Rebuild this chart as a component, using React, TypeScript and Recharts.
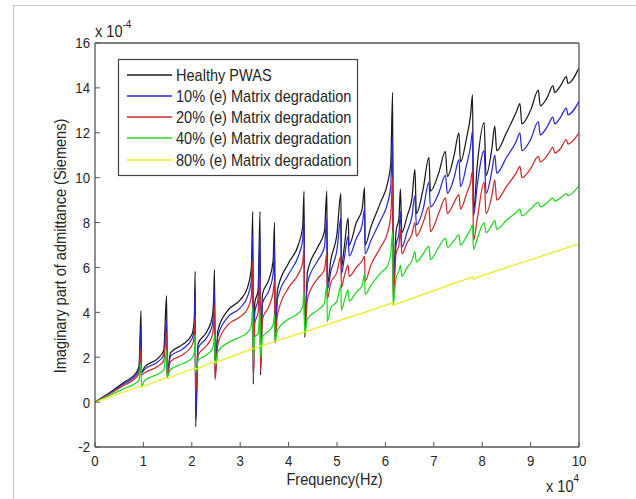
import React from 'react';
import { LineChart, Line, XAxis, YAxis } from 'recharts';

// frequency grid, units of 1e4 Hz (shared by the first four curves)
const freq = [
  0, 0.3, 0.6, 0.85, 0.91, 0.95, 0.96, 1.02, 1.3, 1.42,
  1.48, 1.49, 1.56, 1.8, 2.0, 2.05, 2.07, 2.08, 2.13, 2.3,
  2.42, 2.45, 2.47, 2.48, 2.54, 2.75, 3.0, 3.15, 3.23, 3.26,
  3.27, 3.3, 3.37, 3.41, 3.42, 3.46, 3.6, 3.68, 3.71, 3.72,
  3.77, 4.0, 4.2, 4.29, 4.32, 4.33, 4.39, 4.6, 4.74, 4.79,
  4.8, 4.87, 5.0, 5.08, 5.09, 5.15, 5.23, 5.25, 5.4, 5.52,
  5.57, 5.58, 5.7, 5.9, 6.05, 6.11, 6.15, 6.16, 6.22, 6.28,
  6.31, 6.34, 6.45, 6.55, 6.61, 6.64, 6.78, 6.9, 6.93, 7.1,
  7.24, 7.28, 7.42, 7.52, 7.55, 7.68, 7.76, 7.8, 7.82, 7.9,
  8.04, 8.08, 8.2, 8.26, 8.3, 8.5, 8.7, 8.78, 8.82, 9.0,
  9.16, 9.2, 9.35, 9.46, 9.5, 9.62, 9.74, 9.77, 10,
];

// imaginary admittance, units of 1e-4 S
const healthy = [
  0, 0.42, 0.88, 1.3, 1.6, 4.07, 1.3, 1.55, 1.95, 2.3,
  4.74, 1.12, 2.2, 2.55, 3.0, 3.6, 5.83, -1.1, 2.6, 3.1,
  3.75, 4.5, 5.9, 1.08, 3.2, 4.1, 4.55, 5.1, 6.0, 8.5,
  0.8, 4.4, 5.0, 8.5, 1.2, 4.8, 5.5, 6.3, 8.0, 2.64,
  5.0, 6.2, 7.0, 7.8, 9.4, 2.9, 5.8, 6.9, 7.6, 9.4,
  5.2, 6.3, 7.5, 9.3, 6.0, 6.9, 8.2, 7.0, 8.0, 8.6,
  9.56, 7.0, 7.8, 8.9, 9.8, 10.6, 13.8, 5.2, 7.6, 8.2,
  9.5, 7.55, 8.3, 9.1, 10.37, 8.4, 9.5, 10.9, 9.4, 10.2,
  11.17, 10.05, 11.0, 12.0, 10.7, 11.8, 12.8, 13.7, 8.5, 10.6,
  12.46, 10.1, 11.3, 12.3, 11.2, 12.0, 12.9, 13.3, 12.4, 13.0,
  13.9, 13.2, 13.6, 14.1, 13.8, 14.1, 14.5, 14.2, 14.9,
];

const deg10 = [
  0, 0.4, 0.82, 1.2, 1.45, 3.4, 1.3, 1.45, 1.8, 2.1,
  3.6, 1.3, 2.05, 2.35, 2.8, 3.3, 5.0, -0.7, 2.4, 2.85,
  3.4, 4.0, 5.0, 1.5, 2.95, 3.8, 4.2, 4.7, 5.4, 7.5,
  1.4, 4.0, 4.6, 7.5, 1.8, 4.4, 5.0, 5.7, 7.0, 3.0,
  4.6, 5.7, 6.5, 7.2, 8.2, 3.4, 5.3, 6.3, 6.9, 8.2,
  5.0, 5.8, 6.8, 8.2, 5.7, 6.4, 7.4, 6.5, 7.3, 7.9,
  8.6, 6.6, 7.2, 8.1, 8.9, 9.6, 11.8, 5.0, 7.0, 7.5,
  8.5, 6.9, 7.6, 8.3, 9.2, 7.9, 8.6, 9.8, 8.7, 9.3,
  10.1, 9.3, 10.0, 10.8, 9.6, 10.6, 11.4, 12.06, 8.3, 9.7,
  11.2, 9.3, 10.3, 11.0, 10.2, 10.9, 11.6, 12.0, 11.2, 11.7,
  12.5, 11.9, 12.3, 12.7, 12.4, 12.7, 13.1, 12.8, 13.4,
];

const deg20 = [
  0, 0.36, 0.75, 1.1, 1.3, 2.4, 1.2, 1.3, 1.6, 1.85,
  3.1, 1.2, 1.8, 2.1, 2.5, 2.9, 3.8, 0.4, 2.1, 2.5,
  2.95, 3.4, 4.3, 1.0, 2.6, 3.45, 3.8, 4.15, 4.7, 6.3,
  1.0, 3.5, 4.0, 5.6, 1.4, 3.7, 4.3, 4.9, 5.4, 2.7,
  3.9, 5.1, 5.7, 6.2, 6.8, 2.9, 4.6, 5.5, 5.9, 6.6,
  4.6, 5.3, 5.8, 6.5, 5.1, 5.6, 6.1, 5.6, 6.0, 6.3,
  6.5, 5.4, 6.1, 6.9, 7.6, 8.3, 10.0, 4.5, 6.6, 7.0,
  7.7, 6.6, 7.1, 7.5, 8.0, 7.4, 8.0, 8.7, 7.6, 8.4,
  9.1, 8.4, 8.9, 9.25, 8.6, 9.3, 9.8, 10.3, 7.2, 8.2,
  9.8, 8.4, 9.2, 9.9, 9.0, 9.6, 10.2, 10.5, 10.0, 10.4,
  10.95, 10.7, 11.0, 11.35, 11.1, 11.3, 11.7, 11.5, 12.0,
];

const deg40 = [
  0, 0.3, 0.6, 0.86, 0.98, 1.7, 0.7, 0.95, 1.25, 1.42,
  2.3, 1.1, 1.45, 1.7, 1.95, 2.2, 3.0, 1.3, 1.85, 2.1,
  2.35, 2.6, 3.0, 1.6, 2.25, 2.65, 2.9, 3.1, 3.4, 4.2,
  1.8, 2.9, 3.05, 4.1, 2.0, 2.9, 3.2, 3.45, 3.9, 2.65,
  3.2, 3.7, 3.95, 4.25, 4.9, 3.0, 3.7, 4.1, 4.4, 5.2,
  3.6, 4.2, 4.5, 5.2, 4.1, 4.5, 5.0, 4.5, 4.9, 5.2,
  5.7, 4.8, 5.2, 5.75, 6.1, 6.6, 7.6, 4.3, 5.5, 5.85,
  6.1, 5.6, 6.0, 6.3, 6.7, 6.25, 6.6, 6.95, 6.35, 6.9,
  7.3, 6.9, 7.2, 7.45, 7.0, 7.4, 7.7, 7.9, 6.8, 7.3,
  8.0, 7.55, 7.9, 8.1, 7.7, 8.1, 8.45, 8.6, 8.3, 8.6,
  8.9, 8.7, 8.9, 9.1, 8.95, 9.1, 9.3, 9.2, 9.65,
];

// the 80% curve is almost straight, so it has its own sparse grid
const deg80Freq = [0, 0.95, 0.96, 1.48, 1.49, 2.07, 2.08, 2.47, 2.48, 3.26, 3.41, 3.71, 4.32, 4.79, 5.57, 6.15, 6.16, 7.8, 7.82, 7.88, 10];
const deg80 = [0, 0.72, 0.66, 1.1, 1.05, 1.52, 1.46, 1.82, 1.76, 2.38, 2.48, 2.7, 3.12, 3.45, 4.0, 4.42, 4.32, 5.58, 5.46, 5.55, 7.05];

const xTicks = [0, 1, 2, 3, 4, 5, 6, 7, 8, 9, 10];
const yTicks = [-2, 0, 2, 4, 6, 8, 10, 12, 14, 16];

const toPoints = (f: number[], v: number[]) => f.map((x, i) => ({ f: x, v: v[i] }));

const SERIES = [
  { name: 'Healthy PWAS', color: '#1a1a1a', curve: 'monotone', points: toPoints(freq, healthy) },
  { name: '10% (e) Matrix degradation', color: '#2a2ad0', curve: 'monotone', points: toPoints(freq, deg10) },
  { name: '20% (e) Matrix degradation', color: '#cc2a2a', curve: 'monotone', points: toPoints(freq, deg20) },
  { name: '40% (e) Matrix degradation', color: '#22d622', curve: 'monotone', points: toPoints(freq, deg40) },
  { name: '80% (e) Matrix degradation', color: '#ecec1a', curve: 'linear', points: toPoints(deg80Freq, deg80) },
];

const FONT = '"Liberation Sans", Arial, Helvetica, sans-serif';
const AXIS = '#555';
const TEXT = '#262626';

const XTick = (props: any) => {
  const { x, y, payload } = props;
  return (
    <text transform={`translate(${x},${y}) scale(0.88,1)`} textAnchor="middle" dy="0.71em"
      fontSize={15} fontFamily={FONT} fill={TEXT}>{payload.value}</text>
  );
};

const YTick = (props: any) => {
  const { x, y, payload } = props;
  return (
    <text transform={`translate(${x},${y}) scale(0.88,1)`} textAnchor="end" dy="0.36em"
      fontSize={15} fontFamily={FONT} fill={TEXT}>{payload.value}</text>
  );
};

const legendRows = [75, 96, 117, 138, 160];

export default function App() {
  return (
    <div style={{ position: 'relative', width: 636, height: 499, background: '#fff', overflow: 'hidden' }}>
      <style>{'body{margin:0;background:#fff}'}</style>
      <LineChart width={636} height={499} margin={{ top: 42, right: 56, bottom: 22, left: 35 }}>
        <XAxis xAxisId="b" dataKey="f" type="number" domain={[0, 10]} ticks={xTicks} interval={0}
          allowDataOverflow height={30} tickSize={-5} tickMargin={13} tick={XTick}
          axisLine={{ stroke: AXIS, strokeWidth: 1.3 }} tickLine={{ stroke: AXIS }} />
        <XAxis xAxisId="t" orientation="top" dataKey="f" type="number" domain={[0, 10]} ticks={xTicks} interval={0}
          allowDataOverflow height={1} tickSize={-5} tick={false}
          axisLine={{ stroke: AXIS, strokeWidth: 1.3 }} tickLine={{ stroke: AXIS }} />
        <YAxis yAxisId="l" type="number" domain={[-2, 16]} ticks={yTicks} interval={0}
          allowDataOverflow width={60} tickSize={-5} tickMargin={10} tick={YTick}
          axisLine={{ stroke: AXIS, strokeWidth: 1.3 }} tickLine={{ stroke: AXIS }} />
        <YAxis yAxisId="r" orientation="right" type="number" domain={[-2, 16]} ticks={yTicks} interval={0}
          allowDataOverflow width={1} tickSize={-5} tick={false}
          axisLine={{ stroke: AXIS, strokeWidth: 1.3 }} tickLine={{ stroke: AXIS }} />
        {SERIES.map((s) => (
          <Line key={s.name} xAxisId="b" yAxisId="l" data={s.points} dataKey="v" name={s.name}
            type={s.curve as any} stroke={s.color} strokeWidth={1.25} dot={false} activeDot={false}
            isAnimationActive={false} />
        ))}
      </LineChart>

      <svg width={636} height={499} style={{ position: 'absolute', left: 0, top: 0, pointerEvents: 'none' }}
        fontFamily={FONT} fill={TEXT}>
        <path d="M13.5 499 L13.5 5.5 L636 5.5" fill="none" stroke="#c6c6c6" strokeWidth={1.2} />

        <text transform="translate(95,37) scale(0.91,1)" fontSize={16}>
          x 10<tspan dy={-9} fontSize={11}>-4</tspan>
        </text>
        <text transform="translate(546,492) scale(0.91,1)" fontSize={16}>
          x 10<tspan dy={-10} fontSize={11}>4</tspan>
        </text>
        <text transform="translate(334.5,485) scale(0.91,1)" fontSize={16} textAnchor="middle">Frequency(Hz)</text>
        <text transform="translate(60,246) rotate(-90) scale(0.91,1)" fontSize={16} textAnchor="middle" dy="0.36em">
          Imaginary part of admittance (Siemens)
        </text>

        <rect x={118.5} y={59.5} width={239} height={116} fill="#fff" stroke="#444" strokeWidth={1.2} />
        {SERIES.map((s, i) => (
          <g key={s.name}>
            <line x1={127} x2={172} y1={legendRows[i]} y2={legendRows[i]} stroke={s.color} strokeWidth={1.3} />
            <text transform={`translate(176,${legendRows[i]}) scale(0.91,1)`} fontSize={16} dy="0.36em">{s.name}</text>
          </g>
        ))}
      </svg>
    </div>
  );
}
